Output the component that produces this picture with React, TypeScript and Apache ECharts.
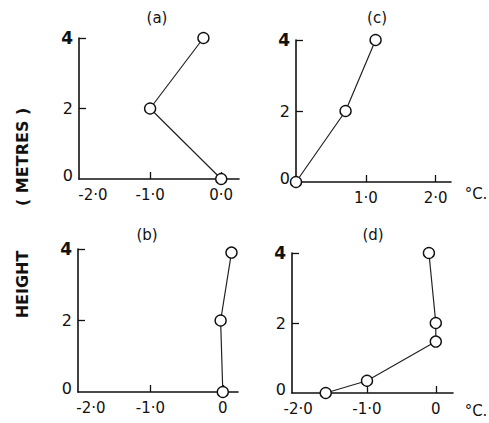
import React, { useEffect, useRef } from "react";
import * as echarts from "echarts";

// Panel (a)
const tempsA = [-0.25, -1.0, 0.0];
const heightsA = [4, 2, 0];
// Panel (b)
const tempsB = [0.12, -0.03, 0.0];
const heightsB = [3.9, 2, 0];
// Panel (c)
const tempsC = [1.14, 0.71, 0.0];
const heightsC = [4, 2, 0];
// Panel (d)
const tempsD = [-0.1, 0.0, 0.0, -1.0, -1.6];
const heightsD = [4, 2, 1.47, 0.35, 0];

const yTicks = [0, 2, 4];
const xTickValsA = [-2, -1, 0];
const xTickLabelsA = ["-2·0", "-1·0", "0·0"];
const xTickValsB = [-2, -1, 0];
const xTickLabelsB = ["-2·0", "-1·0", "0"];
const xTickValsC = [1, 2];
const xTickLabelsC = ["1·0", "2·0"];
const xTickValsD = [-2, -1, 0];
const xTickLabelsD = ["-2·0", "-1·0", "0"];

const panelTitles = ["(a)", "(b)", "(c)", "(d)"];
const yAxisTitle = "HEIGHT        ( METRES )";
const unitLabel = "°C.";

const FONT = "DejaVu Sans";

function pairs(xs: number[], ys: number[]) {
  return xs.map((x, i) => [x, ys[i]]);
}

export default function App() {
  const ref = useRef<HTMLDivElement>(null);
  useEffect(() => {
    if (!ref.current) return;
    const chart = echarts.init(ref.current, null, { renderer: "svg" });

    const grids = [
      { left: 79, top: 38, width: 160, height: 141 },
      { left: 78, top: 249, width: 160, height: 143 },
      { left: 296, top: 40, width: 155, height: 142 },
      { left: 292, top: 253, width: 161, height: 140 },
    ];
    const xRanges = [
      [-2, 0.25],
      [-2, 0.21],
      [0, 2.22],
      [-2.09, 0.25],
    ];
    const tickVals = [xTickValsA, xTickValsB, xTickValsC, xTickValsD];
    const tickLabels = [xTickLabelsA, xTickLabelsB, xTickLabelsC, xTickLabelsD];
    const tickMarks = [[-1, 0], [-1, 0], [1, 2], [-1, 0]];
    // first label of the left panels sits to the right of its tick
    const firstShift = [28, 26, 0, 0];
    const data = [
      pairs(tempsA, heightsA),
      pairs(tempsB, heightsB),
      pairs(tempsC, heightsC),
      pairs(tempsD, heightsD),
    ];

    const axisLine = { show: true, lineStyle: { color: "#111", width: 1.6 } };
    const labelText = { fontFamily: FONT, fontSize: 15, color: "#111" };

    chart.setOption({
      animation: false,
      backgroundColor: "#fff",
      grid: grids.map((g) => ({ ...g, containLabel: false })),
      xAxis: grids.map((_, i) => ({
        type: "value",
        gridIndex: i,
        min: xRanges[i][0],
        max: xRanges[i][1],
        axisLine: { ...axisLine, onZero: false },
        splitLine: { show: false },
        axisTick: {
          show: true,
          inside: true,
          length: 7,
          customValues: tickMarks[i],
          lineStyle: { color: "#111", width: 1.3 },
        },
        axisLabel: {
          customValues: tickVals[i],
          formatter: (v: number) => {
            const k = tickVals[i].indexOf(Math.round(v));
            if (k < 0) return "";
            return k === 0 && firstShift[i] ? `{s|${tickLabels[i][k]}}` : tickLabels[i][k];
          },
          rich: { s: { ...labelText, padding: [0, 0, 0, firstShift[i]] } },
          margin: 8,
          ...labelText,
        },
      })),
      yAxis: grids.map((_, i) => ({
        type: "value",
        gridIndex: i,
        min: 0,
        max: 4,
        interval: 2,
        axisLine: { ...axisLine, onZero: false },
        splitLine: { show: false },
        axisTick: {
          show: true,
          inside: true,
          length: 7,
          customValues: [2, 4],
          lineStyle: { color: "#111", width: 1.3 },
        },
        axisLabel: {
          customValues: yTicks,
          formatter: (v: number) => (v === 4 ? "{b|4}" : v === 0 ? "{z|0}" : String(v)),
          rich: {
            b: { fontWeight: "bold", fontSize: 17, fontFamily: FONT, color: "#111" },
            z: { fontSize: 16, fontFamily: FONT, color: "#111", padding: [0, 0, 8, 0] },
          },
          margin: 6,
          fontFamily: FONT,
          fontSize: 16,
          color: "#111",
        },
      })),
      series: data.map((d, i) => ({
        type: "line",
        xAxisIndex: i,
        yAxisIndex: i,
        data: d,
        symbol: "circle",
        symbolSize: 11,
        showSymbol: true,
        lineStyle: { color: "#222", width: 1.2 },
        itemStyle: { color: "#fff", borderColor: "#111", borderWidth: 1.4 },
        silent: true,
      })),
      graphic: [
        { type: "text", x: 157, y: 18, style: { text: panelTitles[0], font: `15px "${FONT}"`, fill: "#111", align: "center", verticalAlign: "middle" } },
        { type: "text", x: 147, y: 235, style: { text: panelTitles[1], font: `15px "${FONT}"`, fill: "#111", align: "center", verticalAlign: "middle" } },
        { type: "text", x: 377, y: 18, style: { text: panelTitles[2], font: `15px "${FONT}"`, fill: "#111", align: "center", verticalAlign: "middle" } },
        { type: "text", x: 373, y: 235, style: { text: panelTitles[3], font: `15px "${FONT}"`, fill: "#111", align: "center", verticalAlign: "middle" } },
        { type: "text", x: 476, y: 194, style: { text: unitLabel, font: `15px "${FONT}"`, fill: "#111", align: "center", verticalAlign: "middle" } },
        { type: "text", x: 476, y: 411, style: { text: unitLabel, font: `15px "${FONT}"`, fill: "#111", align: "center", verticalAlign: "middle" } },
        {
          type: "text",
          x: 22,
          y: 213,
          rotation: Math.PI / 2,
          style: { text: yAxisTitle, font: `bold 16px "${FONT}"`, fill: "#111", align: "center", verticalAlign: "middle" },
        },
      ],
    });
    return () => chart.dispose();
  }, []);

  return (
    <div
      ref={ref}
      style={{ position: "absolute", left: 0, top: 0, width: 489, height: 423, background: "#fff" }}
    />
  );
}
